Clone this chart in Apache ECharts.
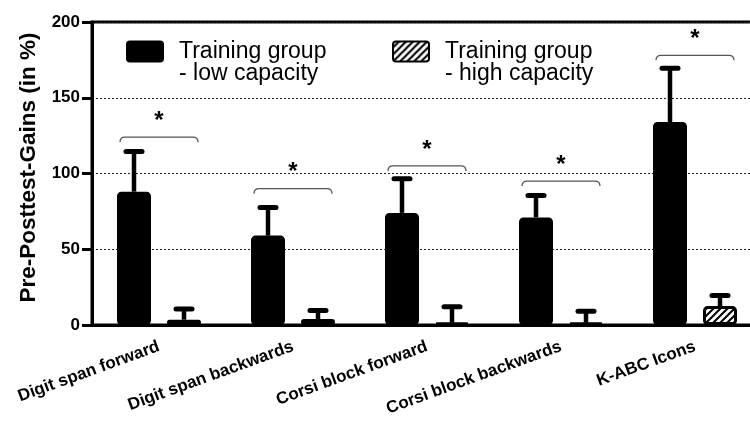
<!DOCTYPE html>
<html>
<head>
<meta charset="utf-8">
<script src="https://cdn.jsdelivr.net/npm/echarts@6/dist/echarts.min.js"></script>
<style>
  html, body { margin: 0; padding: 0; background: #fff; }
  #chart { width: 750px; height: 423px; }
</style>
</head>
<body>
<div id="chart"></div>
<script>
// Memory task gains, pre- to posttest, by training group
const categories = ['Digit span forward', 'Digit span backwards', 'Corsi block forward', 'Corsi block backwards', 'K-ABC Icons'];
const lowCapacity = [88, 59, 74, 71, 134];
const lowCapacityError = [26.5, 18.5, 22.5, 14.5, 35.5];
const highCapacity = [3.5, 4, 1.5, 1.5, 12.5];
const highCapacityError = [7, 5.5, 10.5, 7.5, 7];
// height of each significance bracket (in %)
const bracketLevels = [124, 90, 105, 95, 178];
const yTicks = [0, 50, 100, 150, 200];
const groupNames = ['Training group\n- low capacity', 'Training group\n- high capacity'];

const FONT = '"Liberation Sans", Arial, sans-serif';
const BAR_W = 34;
const BAR_GAP = 16;
const HALF_STEP = (BAR_W + BAR_GAP) / 2;

// legend swatch: rounded box in the upper part of a two-line-tall icon area,
// so it lines up with the first line of the legend text
const LEGEND_ICON = 'path://M0,0 M3,1 L33,1 Q36,1 36,4 L36,18 Q36,21 33,21 L3,21 Q0,21 0,18 L0,4 Q0,1 3,1 Z M36,44';

// diagonal hatch tile for the high-capacity bars
function hatchTile() {
  const c = document.createElement('canvas');
  const s = 7;
  c.width = s; c.height = s;
  const g = c.getContext('2d');
  g.fillStyle = '#fff';
  g.fillRect(0, 0, s, s);
  g.strokeStyle = '#000';
  g.lineWidth = 2;
  g.beginPath();
  g.moveTo(-2, s + 2); g.lineTo(s + 2, -2);
  g.moveTo(-2, 2); g.lineTo(2, -2);
  g.moveTo(s - 2, s + 2); g.lineTo(s + 2, s - 2);
  g.stroke();
  return c;
}

function errorSeries(means, errs, offset) {
  return {
    type: 'custom',
    silent: true,
    z: 5,
    encode: { x: 0, y: [1, 2] },
    data: means.map((m, i) => [i, m, m + errs[i]]),
    renderItem(params, api) {
      const base = api.coord([api.value(0), api.value(1)]);
      const top = api.coord([api.value(0), api.value(2)]);
      const x = base[0] + offset;
      return {
        type: 'group',
        children: [
          { type: 'line', shape: { x1: x, y1: base[1], x2: x, y2: top[1] },
            style: { stroke: '#000', lineWidth: 4.5 } },
          { type: 'line', shape: { x1: x - 8, y1: top[1], x2: x + 8, y2: top[1] },
            style: { stroke: '#000', lineWidth: 5, lineCap: 'round' } }
        ]
      };
    }
  };
}

const bracketSeries = {
  type: 'custom',
  silent: true,
  z: 6,
  encode: { x: 0, y: 1 },
  data: bracketLevels.map((v, i) => [i, v]),
  renderItem(params, api) {
    const p = api.coord([api.value(0), api.value(1)]);
    const half = 39, r = 5;
    const x1 = p[0] - half, x2 = p[0] + half, y = p[1];
    return {
      type: 'group',
      children: [
        { type: 'path',
          shape: { pathData: `M${x1} ${y + r} Q${x1} ${y} ${x1 + r} ${y} L${x2 - r} ${y} Q${x2} ${y} ${x2} ${y + r}` },
          style: { stroke: '#555', lineWidth: 1.3, fill: null } },
        { type: 'text', x: p[0], y: y - 16,
          style: { text: '*', font: 'bold 24px ' + FONT, fill: '#000', align: 'center', verticalAlign: 'middle' } }
      ]
    };
  }
};

const chart = echarts.init(document.getElementById('chart'), null, { renderer: 'canvas' });

const legendText = {
  fontSize: 23, fontFamily: FONT, color: '#000', lineHeight: 22, padding: [0, 0, 0, 11]
};

function legendFor(name, left) {
  return {
    left: left, top: 39.5, padding: 0, itemWidth: 36, itemHeight: 44,
    data: [{ name: name, icon: LEGEND_ICON }],
    textStyle: legendText, selectedMode: false
  };
}

chart.setOption({
  animation: false,
  backgroundColor: '#fff',
  textStyle: { fontFamily: FONT },
  grid: {
    left: 92, right: -12, top: 22, bottom: 98,
    show: true, borderColor: '#000', borderWidth: 3, backgroundColor: 'transparent',
    outerBoundsMode: 'none'
  },
  legend: [legendFor(groupNames[0], 126), legendFor(groupNames[1], 392)],
  xAxis: {
    type: 'category',
    data: categories,
    axisLine: { lineStyle: { color: '#000', width: 3 } },
    axisTick: { alignWithLabel: true, length: 8, lineStyle: { color: '#000', width: 3 } },
    axisLabel: { rotate: 20, interval: 0, margin: 21, fontSize: 17, fontWeight: 'bold', color: '#000', fontFamily: FONT },
    splitLine: { show: false }
  },
  yAxis: {
    type: 'value',
    min: yTicks[0], max: yTicks[yTicks.length - 1], interval: yTicks[1] - yTicks[0],
    name: 'Pre-Posttest-Gains (in %)',
    nameLocation: 'middle', nameGap: 47,
    nameTextStyle: { fontSize: 22.5, fontWeight: 'bold', color: '#000', fontFamily: FONT, padding: [0, 0, 0, 12] },
    axisLine: { show: true, lineStyle: { color: '#000', width: 3 } },
    axisTick: { show: true, length: 10, lineStyle: { color: '#000', width: 3 } },
    axisLabel: { margin: 12, fontSize: 17, fontWeight: 'bold', color: '#000', fontFamily: FONT },
    splitLine: { show: true, lineStyle: { color: '#222', width: 1, type: [2, 2] } }
  },
  series: [
    { name: groupNames[0], type: 'bar', data: lowCapacity, barWidth: BAR_W, barGap: (BAR_GAP / BAR_W * 100) + '%',
      itemStyle: { color: '#000', borderColor: '#000', borderWidth: 3, borderRadius: 3 } },
    { name: groupNames[1], type: 'bar', data: highCapacity, barWidth: BAR_W,
      itemStyle: { color: { image: hatchTile(), repeat: 'repeat' }, borderColor: '#000', borderWidth: 3, borderRadius: 3 } },
    errorSeries(lowCapacity, lowCapacityError, -HALF_STEP),
    errorSeries(highCapacity, highCapacityError, HALF_STEP),
    bracketSeries
  ]
});
</script>
</body>
</html>
